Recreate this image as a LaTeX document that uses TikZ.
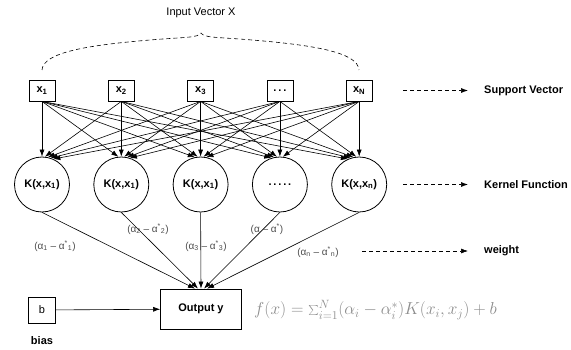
\documentclass[tikz,border=0pt]{standalone}
\usepackage{fontspec}
\setmainfont{Liberation Sans}
\usetikzlibrary{arrows.meta,calc}

\tikzset{
	inbox/.style={draw, line width=0.8pt, minimum width=26pt, minimum height=21pt, inner sep=0pt, font=\fontsize{11}{13}\selectfont\bfseries},
	kern/.style={draw, circle, line width=0.8pt, minimum size=55pt, inner sep=0pt, font=\fontsize{11}{13}\selectfont\bfseries},
	conn/.style={line width=0.6pt, -{Latex[length=7pt,width=5pt]}},
	dasharrow/.style={conn, dash pattern=on 4pt off 3pt},
	wlab/.style={text=black!70, inner sep=0pt, font=\fontsize{10}{12}\selectfont},
	rlab/.style={anchor=west, inner sep=0pt, font=\fontsize{11}{13}\selectfont\bfseries},
	plain/.style={inner sep=0pt, font=\fontsize{11}{13}\selectfont}
}

\begin{document}
\begin{tikzpicture}[x=1pt, y=-1pt]
	\useasboundingbox (0,0) rectangle (571,350);

	\foreach \i/\lab in {1/x\textsubscript{1}, 2/x\textsubscript{2}, 3/x\textsubscript{3}, 4/{.\,.\,.}, 5/x\textsubscript{N}}
		\node[inbox] (x\i) at ({42+79.3*(\i-1)}, 90.5) {\lab};

	\foreach \j/\lab in {1/{K(x,x\textsubscript{1})}, 2/{K(x,x\textsubscript{1})}, 3/{K(x,x\textsubscript{1})}, 4/{.\,.\,.\,.\,.}, 5/{K(x,x\textsubscript{n})}}
		\node[kern] (k\j) at ({42+79.3*(\j-1)}, 184.5) {\lab};

	\foreach \i in {1,...,5}
		\foreach \j in {1,...,5} {
			\pgfmathtruncatemacro\ang{90-6*(\i-\j)}
			\draw[conn] (x\i.south) -- (k\j.\ang);
		}

	% input vector brace
	\node[plain] (inlab) at (201,13) {Input Vector X};
	\draw[line width=0.6pt, dash pattern=on 4pt off 3pt] (42,70) .. controls (43,52) and (90,45) .. (150,40) .. controls (185,37) and (198,38) .. (201,33)
		.. controls (204,38) and (217,37) .. (252,40) .. controls (312,45) and (358,52) .. (359,70);

	\node[draw, line width=0.8pt, minimum width=81pt, minimum height=40pt, inner sep=0pt, font=\fontsize{11}{13}\selectfont\bfseries] (out) at (201,309) {Output y};
	\foreach \j in {1,...,5}
		\draw[conn] (k\j.south) -- ($(out.north)+({3*(\j-3)},0)$);

	\node[wlab] (w1) at (55,246) {(α\textsubscript{1} – α\textsuperscript{*}\textsubscript{1})};
	\node[wlab] (w2) at (148,229) {(α\textsubscript{2} – α\textsuperscript{*}\textsubscript{2})};
	\node[wlab] (w3) at (206,246) {(α\textsubscript{3} – α\textsuperscript{*}\textsubscript{3})};
	\node[wlab] (w4) at (267,229) {(α – α\textsuperscript{*})};
	\node[wlab] (w5) at (318,252) {(α\textsubscript{n} – α\textsuperscript{*}\textsubscript{n})};

	\node[draw, line width=0.8pt, minimum width=27pt, minimum height=26pt, inner sep=0pt, font=\fontsize{11}{13}\selectfont] (b) at (42,310) {b};
	\node[plain, font=\fontsize{11}{13}\selectfont\bfseries] (bias) at (42,341) {bias};
	\draw[conn] (b) -- (out);

	\node[anchor=west, inner sep=0pt, text=black!45, font=\fontsize{17.5}{20}\selectfont] (fx) at (254,310) {$f(x)=\sum_{i=1}^{N}(\alpha_i-\alpha_i^{*})K\big(x_i,x_j\big)+b$};

	\node[rlab] (sv) at (484,90.5) {Support Vector};
	\node[rlab] (kf) at (484,184.5) {Kernel Function};
	\node[rlab] (wt) at (484,251) {weight};
	\coordinate (sv0) at (403,90.5);
	\coordinate (kf0) at (403,184.5);
	\coordinate (wt0) at (362,251);
	\draw[dasharrow, shorten >=16pt] (sv0) -- (sv.west);
	\draw[dasharrow, shorten >=16pt] (kf0) -- (kf.west);
	\draw[dasharrow, shorten >=16pt] (wt0) -- (wt.west);
\end{tikzpicture}
\end{document}
